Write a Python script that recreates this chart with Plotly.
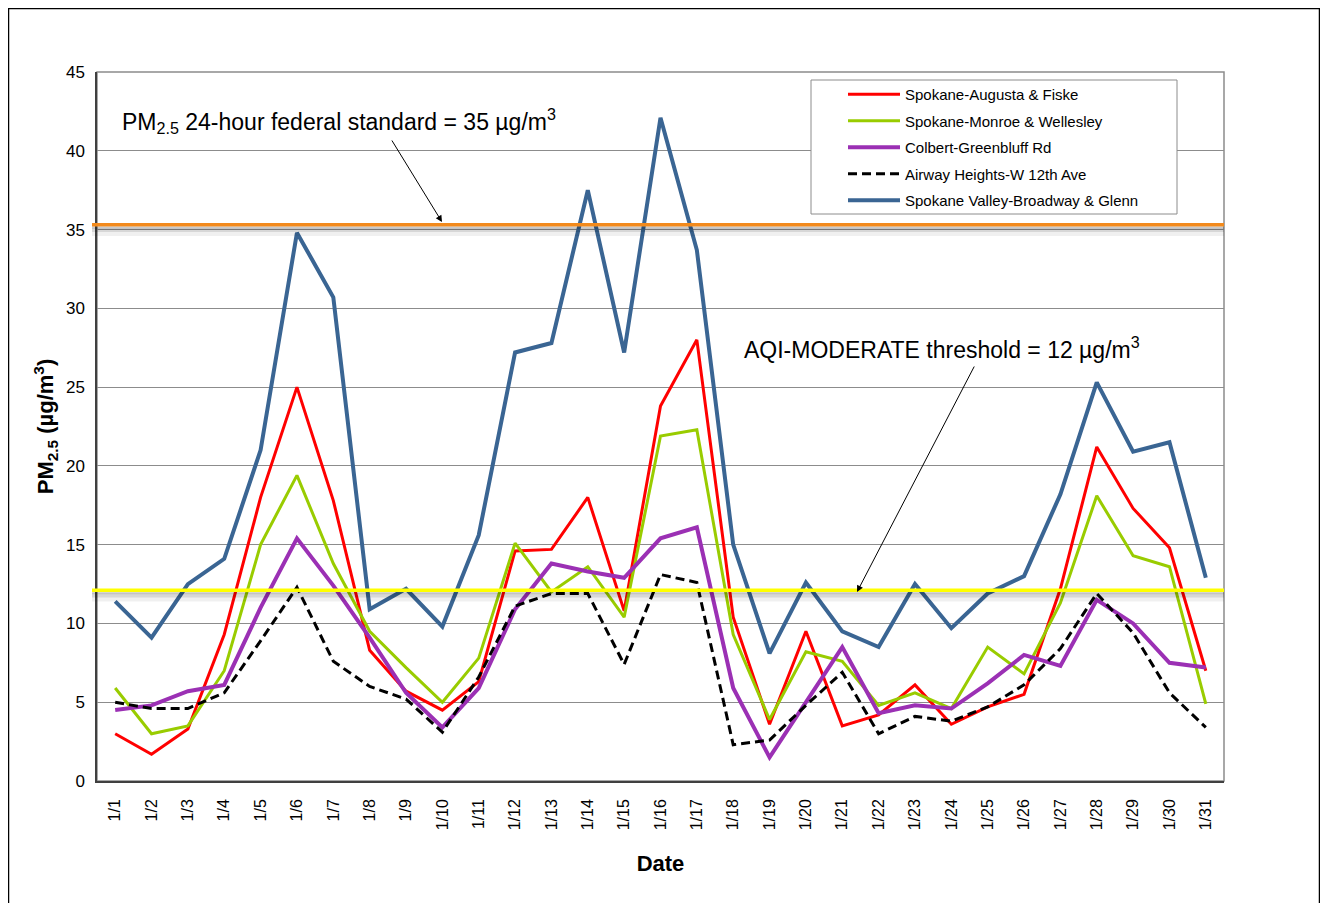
import plotly.graph_objects as go

dates = ["1/%d" % d for d in range(1, 32)]

augusta = [3.0, 1.7, 3.3, 9.3, 18.0, 25.0, 17.8, 8.3, 5.7, 4.5, 6.3, 14.6, 14.7, 18.0, 10.8, 23.8,
           28.0, 10.4, 3.6, 9.5, 3.5, 4.2, 6.1, 3.6, 4.7, 5.5, 12.2, 21.2, 17.3, 14.8, 7.0]
monroe = [5.9, 3.0, 3.5, 7.0, 15.0, 19.4, 13.8, 9.5, 7.2, 5.0, 7.8, 15.1, 12.0, 13.6, 10.4, 21.9,
          22.3, 9.3, 3.9, 8.2, 7.6, 4.8, 5.6, 4.6, 8.5, 6.8, 11.3, 18.1, 14.3, 13.6, 4.9]
colbert = [4.5, 4.8, 5.7, 6.1, 11.0, 15.4, 12.4, 9.1, 5.6, 3.4, 5.9, 10.9, 13.8, 13.3, 12.9, 15.4,
           16.1, 5.9, 1.5, 5.0, 8.5, 4.3, 4.8, 4.6, 6.2, 8.0, 7.3, 11.5, 10.0, 7.5, 7.2]
airway = [5.0, 4.6, 4.6, 5.6, 8.9, 12.3, 7.6, 6.0, 5.2, 3.1, 6.6, 11.1, 11.9, 11.9, 7.4, 13.1,
          12.6, 2.3, 2.6, 4.8, 6.9, 3.0, 4.1, 3.8, 4.7, 6.1, 8.4, 11.9, 9.4, 5.6, 3.4]
valley = [11.4, 9.1, 12.5, 14.1, 21.0, 34.8, 30.7, 10.9, 12.2, 9.8, 15.6, 27.2, 27.8, 37.5, 27.2, 42.1,
          33.7, 15.0, 8.1, 12.6, 9.5, 8.5, 12.5, 9.7, 11.9, 13.0, 18.2, 25.3, 20.9, 21.5, 12.9]

series_names = ["Spokane-Augusta & Fiske", "Spokane-Monroe & Wellesley", "Colbert-Greenbluff Rd",
                "Airway Heights-W 12th Ave", "Spokane Valley-Broadway & Glenn"]
series_values = [augusta, monroe, colbert, airway, valley]
series_colors = ["#FF0000", "#99CC00", "#9B30B4", "#000000", "#3A6593"]
series_dash = ["solid", "solid", "solid", "9px,5px", "solid"]
series_width = [3, 3, 4, 3, 4]

federal_std = 35.3
aqi_moderate = 12.1

FONT = "Arial, 'Liberation Sans', sans-serif"

# page offset (body margin) and figure size
OFF = 8
W, H = 1328 - 2 * OFF, 903 - OFF
# plot area in page pixels
L, R, T, B = 97, 1224, 72, 781


def px(x):
    return (x - L) / (R - L)


def py(y):
    return (B - y) / (B - T)


fig = go.Figure()
for name, vals, col, dash, w in zip(series_names, series_values, series_colors, series_dash, series_width):
    fig.add_trace(go.Scatter(x=dates, y=vals, name=name, mode="lines", legendgroup=name,
                             line=dict(color=col, width=w, dash=dash)))

shapes = []
# plot-area border
shapes.append(dict(type="rect", xref="paper", yref="paper", x0=0, x1=1, y0=0, y1=1,
                   line=dict(color="#8C8C8C", width=1.5), layer="below"))
# reference lines with soft shadow
for yv, col in [(federal_std, "#F28A1C"), (aqi_moderate, "#FFFF00")]:
    for off, wd, op in [(-0.45, 8, 0.06), (-0.3, 5, 0.10), (-0.15, 3, 0.12)]:
        shapes.append(dict(type="line", xref="paper", yref="y", x0=px(92), x1=1.0,
                           y0=yv + off, y1=yv + off, layer="above",
                           line=dict(color="rgba(0,0,0,%s)" % op, width=wd)))
    shapes.append(dict(type="line", xref="paper", yref="y", x0=px(92), x1=1.0,
                       y0=yv, y1=yv, layer="above", line=dict(color=col, width=3.5)))

# legend box
shapes.append(dict(type="rect", xref="paper", yref="paper", x0=px(811), x1=px(1177),
                   y0=py(214), y1=py(80), fillcolor="white", layer="above",
                   line=dict(color="#8C8C8C", width=1)))

# outer frame
shapes.append(dict(type="rect", xref="paper", yref="paper", x0=px(8.5), x1=px(1319.5),
                   y0=py(915), y1=py(8.5), line=dict(color="#000000", width=1.5), layer="below"))

annotations = [
    dict(xref="paper", yref="paper", x=px(120), y=py(121), xanchor="left", yanchor="middle",
         text="PM<sub>2.5</sub> 24-hour federal standard = 35 µg/m<sup>3</sup>",
         showarrow=False, font=dict(family=FONT, size=23, color="#000000")),
    dict(xref="paper", yref="paper", x=px(742), y=py(348), xanchor="left", yanchor="middle",
         text="AQI-MODERATE threshold = 12 µg/m<sup>3</sup>",
         showarrow=False, font=dict(family=FONT, size=23, color="#000000")),
    dict(xref="paper", yref="paper", x=px(442), y=py(222), ax=391 - 442, ay=139 - 222,
         axref="pixel", ayref="pixel", text="", showarrow=True, arrowhead=2, arrowsize=1.3,
         arrowwidth=1, arrowcolor="#000000", standoff=0),
    dict(xref="paper", yref="paper", x=px(857), y=py(592), ax=975 - 857, ay=365 - 592,
         axref="pixel", ayref="pixel", text="", showarrow=True, arrowhead=2, arrowsize=1.3,
         arrowwidth=1, arrowcolor="#000000", standoff=0),
]

fig.update_layout(
    width=W, height=H,
    margin=dict(l=L - OFF, r=(W + OFF) - R, t=T - OFF, b=(H + OFF) - B, pad=0),
    paper_bgcolor="white", plot_bgcolor="white",
    font=dict(family=FONT, color="#000000"),
    showlegend=True,
    legend=dict(x=px(843), y=py(78), xanchor="left", yanchor="top",
                bgcolor="rgba(0,0,0,0)", borderwidth=0,
                font=dict(family=FONT, size=15, color="#000000"),
                itemwidth=52, tracegroupgap=4),
    shapes=shapes,
    annotations=annotations,
)

fig.update_xaxes(
    type="category", range=[-0.5, 30.5], tickangle=-90,
    tickfont=dict(family=FONT, size=16, color="#000000"),
    showgrid=False, showline=True, linecolor="#404040", linewidth=1.5, mirror=False,
    ticks="", ticklabelstandoff=10,
    title=dict(text="<b>Date</b>", font=dict(family=FONT, size=22, color="#000000"), standoff=26),
)
fig.update_yaxes(
    range=[0, 45], dtick=5, tick0=0,
    tickfont=dict(family=FONT, size=17, color="#000000"),
    showgrid=True, gridcolor="#8C8C8C", gridwidth=1,
    showline=True, linecolor="#404040", linewidth=1.5,
    ticks="", ticklabelstandoff=7, zeroline=False,
    title=dict(text="<b>PM<sub>2.5</sub> (µg/m<sup>3</sup>)</b>",
               font=dict(family=FONT, size=22, color="#000000"), standoff=6),
)

fig.write_html("out.html")
